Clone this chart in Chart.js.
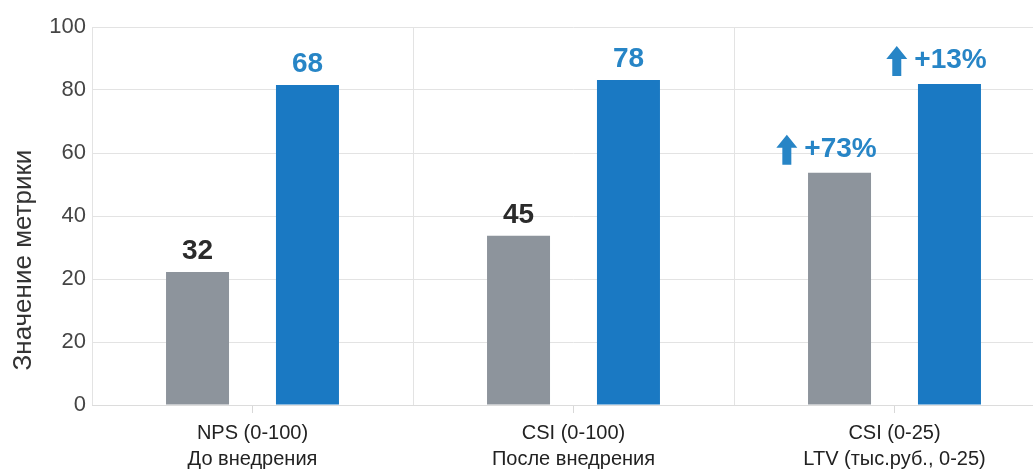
<!DOCTYPE html>
<html>
<head>
<meta charset="utf-8">
<script src="https://cdn.jsdelivr.net/npm/chart.js@4/dist/chart.umd.min.js"></script>
<style>
  html, body { margin: 0; padding: 0; background: #fff; overflow: hidden; }
  #wrap { width: 1055px; height: 470px; }
</style>
</head>
<body>
<div id="wrap"><canvas id="chart"></canvas></div>
<script>
// ===== Data =====
const categories = [
  ['NPS (0-100)', 'До внедрения'],
  ['CSI (0-100)', 'После внедрения'],
  ['CSI (0-25)', 'LTV (тыс.руб., 0-25)']
];
const beforeValues = [42.2, 53.7, 73.7];   // gray bars, in axis units
const afterValues = [101.6, 103.2, 101.9]; // blue bars, in axis units
const beforeLabels = ['32', '45', '+73%'];
const afterLabels = ['68', '78', '+13%'];
const arrowBefore = [false, false, true];
const arrowAfter = [false, false, true];
const yTickLabels = ['0', '20', '20', '40', '60', '80', '100'];
const yTitle = 'Значение метрики';

const GRAY = '#8d949c';
const BLUE = '#1a79c3';
const LABEL_BLUE = '#2785c6';
const FONT = '"Liberation Sans", Arial, sans-serif';

// ===== Value labels above bars =====
const valueLabels = {
  id: 'valueLabels',
  afterDatasetsDraw(chart) {
    const ctx = chart.ctx;
    ctx.save();
    ctx.font = 'bold 28px ' + FONT;
    ctx.textBaseline = 'middle';
    chart.data.datasets.forEach((ds, di) => {
      const meta = chart.getDatasetMeta(di);
      meta.data.forEach((bar, i) => {
        const text = ds.valueText[i];
        ctx.fillStyle = ds.textColor[i];
        if (!ds.arrows[i]) {
          ctx.textAlign = 'center';
          ctx.fillText(text, bar.x, bar.y - 21);
          return;
        }
        const y = bar.y - 24;
        const tw = ctx.measureText(text).width;
        const aw = 21, gap = 7;
        const left = bar.x - (aw + gap + tw) / 2 - 13;
        // block arrow
        ctx.fillStyle = LABEL_BLUE;
        ctx.beginPath();
        ctx.moveTo(left + aw / 2, y - 14);
        ctx.lineTo(left + aw, y - 1);
        ctx.lineTo(left + aw / 2 + 4.5, y - 1);
        ctx.lineTo(left + aw / 2 + 4.5, y + 16);
        ctx.lineTo(left + aw / 2 - 4.5, y + 16);
        ctx.lineTo(left + aw / 2 - 4.5, y - 1);
        ctx.lineTo(left, y - 1);
        ctx.closePath();
        ctx.fill();
        ctx.textAlign = 'left';
        ctx.fillText(text, left + aw + gap, y);
      });
    });
    ctx.restore();
  }
};

// ===== Y axis title (sits a bit below the plot centre, as in the original) =====
const axisTitle = {
  id: 'axisTitle',
  afterDraw(chart) {
    const { ctx, chartArea } = chart;
    ctx.save();
    ctx.translate(24, (chartArea.top + chartArea.bottom) / 2 + 44);
    ctx.rotate(-Math.PI / 2);
    ctx.font = '26px ' + FONT;
    ctx.fillStyle = '#333';
    ctx.textAlign = 'center';
    ctx.textBaseline = 'middle';
    ctx.fillText(yTitle, 0, 0);
    ctx.restore();
  }
};

const ctx = document.getElementById('chart').getContext('2d');
new Chart(ctx, {
  type: 'bar',
  data: {
    labels: categories,
    datasets: [
      {
        label: 'До',
        data: beforeValues,
        backgroundColor: GRAY,
        valueText: beforeLabels,
        arrows: arrowBefore,
        textColor: arrowBefore.map(a => a ? LABEL_BLUE : '#2b2b2b'),
        barPercentage: 0.573,
        categoryPercentage: 0.685
      },
      {
        label: 'После',
        data: afterValues,
        backgroundColor: BLUE,
        valueText: afterLabels,
        arrows: arrowAfter,
        textColor: afterLabels.map(() => LABEL_BLUE),
        barPercentage: 0.573,
        categoryPercentage: 0.685
      }
    ]
  },
  options: {
    responsive: true,
    maintainAspectRatio: false,
    animation: false,
    layout: { padding: { top: 27, right: 0, bottom: 0, left: 0 } },
    plugins: {
      legend: { display: false },
      tooltip: { enabled: false }
    },
    scales: {
      y: {
        min: 0,
        max: 120,
        ticks: {
          stepSize: 20,
          padding: 6,
          color: '#454545',
          font: { size: 22, family: FONT },
          callback: (value, index) => yTickLabels[index]
        },
        grid: { color: '#e3e3e3', drawTicks: false },
        border: { display: false },
        afterFit: (scale) => { scale.width = 92; }
      },
      x: {
        grid: {
          offset: false,
          drawOnChartArea: false,
          color: '#d8d8d8',
          tickLength: 8
        },
        border: { display: true, color: '#dcdcdc' },
        ticks: {
          color: '#222',
          padding: 7,
          font: { size: 20, family: FONT, lineHeight: 1.3 }
        },
        afterFit: (scale) => { scale.height = 65; }
      },
      xBounds: {
        type: 'category',
        position: 'top',
        labels: categories.map((c, i) => 'c' + i),
        offset: true,
        grid: { offset: true, color: '#e3e3e3', drawTicks: false },
        border: { display: false },
        ticks: { display: false },
        afterFit: (scale) => { scale.height = 0; }
      }
    }
  },
  plugins: [valueLabels, axisTitle]
});
</script>
</body>
</html>
